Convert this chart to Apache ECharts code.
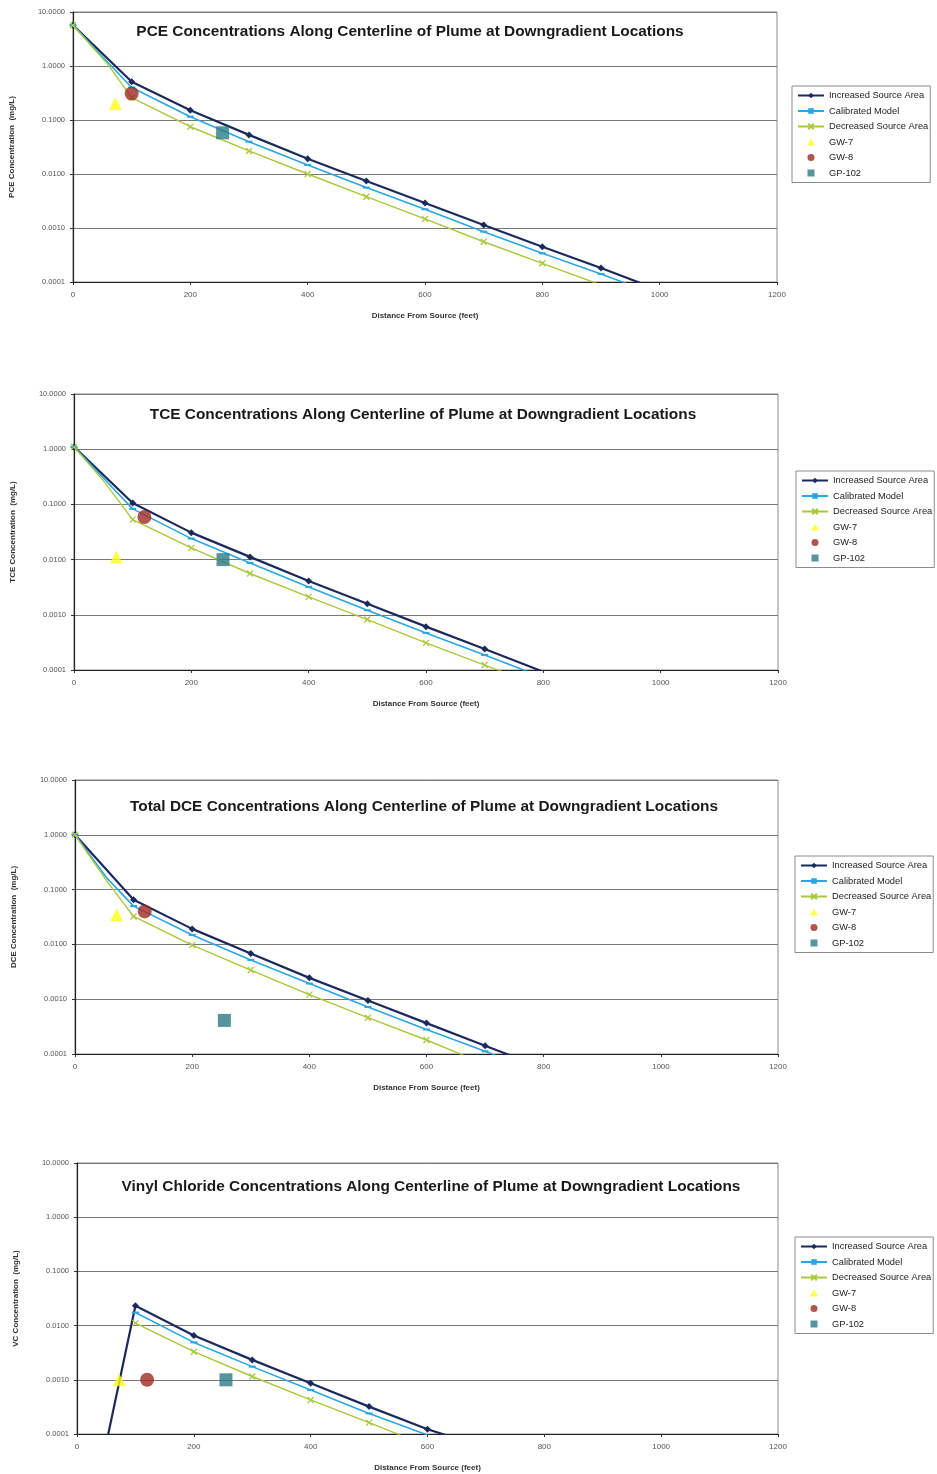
<!DOCTYPE html>
<html>
<head>
<meta charset="utf-8">
<script src="https://cdn.jsdelivr.net/npm/echarts@6/dist/echarts.min.js"></script>
<style>
html,body{margin:0;padding:0;background:#fff;}
#chart{width:937px;height:1474px;}
</style>
</head>
<body>
<div id="chart"></div>
<script>
// ---------- Data (distance ft, concentration mg/L) ----------
const seriesNames = ['Increased Source Area','Calibrated Model','Decreased Source Area','GW-7','GW-8','GP-102'];
const chartTitles = [
  'PCE Concentrations Along Centerline of Plume at Downgradient Locations',
  'TCE Concentrations Along Centerline of Plume at Downgradient Locations',
  'Total DCE Concentrations Along Centerline of Plume at Downgradient Locations',
  'Vinyl Chloride Concentrations Along Centerline of Plume at Downgradient Locations'
];
const yAxisNames = ['PCE Concentration  (mg/L)','TCE Concentration  (mg/L)','DCE Concentration  (mg/L)','VC Concentration  (mg/L)'];
const xAxisName = 'Distance From Source (feet)';
const yTicks = [0.0001, 0.001, 0.01, 0.1, 1, 10];
const xTicks = [0, 200, 400, 600, 800, 1000, 1200];

// PCE
const pceIncreased  = [[0,5.7],[100,0.51],[200,0.151],[300,0.053],[400,0.0192],[500,0.0074],[600,0.0029],[700,0.00114],[800,0.00045],[900,0.000182],[1000,0.00007]];
const pceCalibrated = [[0,5.7],[60,1.15],[100,0.40],[200,0.115],[300,0.0396],[400,0.0147],[500,0.0056],[600,0.00222],[700,0.000855],[800,0.00034],[900,0.000141],[1000,0.000055]];
const pceDecreased  = [[0,5.7],[60,1.05],[100,0.26],[200,0.075],[300,0.0267],[400,0.0100],[500,0.0038],[600,0.00147],[700,0.000557],[800,0.000222],[900,0.000088]];
const pceGW7   = [[72,0.20]];
const pceGW8   = [[100,0.31]];
const pceGP102 = [[255,0.058]];

// TCE
const tceIncreased  = [[0,1.1],[100,0.106],[200,0.0308],[300,0.0112],[400,0.00411],[500,0.00158],[600,0.00061],[700,0.00024],[800,0.000093]];
const tceCalibrated = [[0,1.1],[50,0.30],[100,0.083],[200,0.024],[300,0.0087],[400,0.0032],[500,0.00121],[600,0.00047],[700,0.000187],[800,0.000073]];
const tceDecreased  = [[0,1.1],[50,0.27],[100,0.053],[200,0.0163],[300,0.0056],[400,0.00211],[500,0.00082],[600,0.00031],[700,0.000123],[800,0.000049]];
const tceGW7   = [[72,0.0112]];
const tceGW8   = [[120,0.059]];
const tceGP102 = [[254,0.0100]];

// DCE
const dceIncreased  = [[0,1.0],[100,0.065],[200,0.0192],[300,0.0068],[400,0.00245],[500,0.00095],[600,0.000366],[700,0.000142],[800,0.000055]];
const dceCalibrated = [[0,1.0],[55,0.16],[100,0.050],[200,0.0149],[300,0.0052],[400,0.00193],[500,0.00072],[600,0.00028],[700,0.000112],[800,0.000043]];
const dceDecreased  = [[0,1.0],[55,0.14],[100,0.0323],[200,0.0097],[300,0.0034],[400,0.00121],[500,0.00046],[600,0.00018],[700,0.000065]];
const dceGW7   = [[71,0.0347]];
const dceGW8   = [[119,0.040]];
const dceGP102 = [[255,0.00041]];

// Vinyl chloride
const vcIncreased  = [[0,0.00000019],[100,0.0232],[200,0.00656],[300,0.00233],[400,0.00086],[500,0.00032],[600,0.000122],[700,0.000056]];
const vcCalibrated = [[100,0.0174],[200,0.0049],[300,0.00175],[400,0.00065],[500,0.00024],[600,0.000096],[700,0.00004]];
const vcDecreased  = [[100,0.0111],[200,0.0033],[300,0.00115],[400,0.000425],[500,0.000162],[600,0.00006]];
const vcGW7   = [[72,0.0010]];
const vcGW8   = [[120,0.0010]];
const vcGP102 = [[255,0.0010]];

const chartData = [
  [pceIncreased, pceCalibrated, pceDecreased, pceGW7, pceGW8, pceGP102],
  [tceIncreased, tceCalibrated, tceDecreased, tceGW7, tceGW8, tceGP102],
  [dceIncreased, dceCalibrated, dceDecreased, dceGW7, dceGW8, dceGP102],
  [vcIncreased, vcCalibrated, vcDecreased, vcGW7, vcGW8, vcGP102]
];

// ---------- Layout / style ----------
const FONT = '"Liberation Sans", Arial, sans-serif';
const grids = [
  {left:71, top:12,   width:706, height:270},
  {left:74, top:394,  width:704, height:276},
  {left:75, top:780,  width:703, height:274},
  {left:77, top:1163, width:701, height:271}
];
const titlePos  = [{x:405,y:27},{x:418,y:410},{x:419,y:802},{x:426,y:1182}];
const legendPos = [{x:792,y:86},{x:796,y:471},{x:795,y:856},{x:795,y:1237}];
const C_INC = '#1b2a5c', C_CAL = '#2aa7e1', C_DEC = '#a9c83c', C_GW7 = '#ffff1a', C_GW8 = '#9e2a22', C_GP = '#2c7a84';
const xPath = 'path://M0,0L10,10M10,0L0,10';
const triPath = 'path://M5,0L10,9L0,9Z';
const circPath = 'path://M5,0A5,5,0,1,1,4.99,0Z';
const sqPath = 'path://M0,0H10V10H0Z';

// marker only on the regular 100-ft model nodes
const nodes = arr => arr.map(d => (d[0] % 100 === 0) ? d : {value:d, symbol:'none'});

const option = {
  animation:false,
  backgroundColor:'#fff',
  title: chartTitles.map((t,i)=>({
    text:t, left:titlePos[i].x, top:titlePos[i].y, textAlign:'center', textVerticalAlign:'middle',
    textStyle:{fontFamily:FONT, fontSize:15.4, fontWeight:'bold', color:'#1a1a1a'}
  })),
  legend: legendPos.map(p=>({
    data:[
      {name:seriesNames[0]},
      {name:seriesNames[1]},
      {name:seriesNames[2]},
      {name:seriesNames[3], icon:triPath},
      {name:seriesNames[4], icon:circPath},
      {name:seriesNames[5], icon:sqPath}
    ],
    orient:'vertical', left:p.x, top:p.y, symbolKeepAspect:true,
    backgroundColor:'#fff', borderColor:'#8c8c8c', borderWidth:1, borderRadius:0,
    padding:[4,2,4,5], itemGap:4.5, itemWidth:26, itemHeight:7,
    textStyle:{fontFamily:FONT, fontSize:9.3, color:'#222', lineHeight:11},
    selectedMode:false
  })),
  grid: grids.map(g=>Object.assign({show:true, borderColor:'#8a8a8a', borderWidth:1, backgroundColor:'#fff'}, g)),
  xAxis: grids.map((g,i)=>({
    type:'value', gridIndex:i, min:xTicks[0], max:xTicks[xTicks.length-1], interval:200,
    name:xAxisName, nameLocation:'middle', nameGap:30,
    nameTextStyle:{fontFamily:FONT, fontSize:8, fontWeight:'bold', color:'#333'},
    axisLine:{show:true, onZero:false, lineStyle:{color:'#222', width:1.2}},
    axisTick:{show:true, length:3, lineStyle:{color:'#333'}},
    axisLabel:{fontFamily:FONT, fontSize:8, color:'#555', margin:9, formatter:v=>String(v)},
    splitLine:{show:false}
  })),
  yAxis: grids.map((g,i)=>({
    type:'log', logBase:10, gridIndex:i, min:yTicks[0], max:yTicks[yTicks.length-1],
    name:yAxisNames[i], nameLocation:'middle', nameRotate:90, nameGap:57,
    nameTextStyle:{fontFamily:FONT, fontSize:8, fontWeight:'bold', color:'#333'},
    axisLine:{show:true, lineStyle:{color:'#222', width:1.2}},
    axisTick:{show:true, length:3, lineStyle:{color:'#333'}},
    axisLabel:{fontFamily:FONT, fontSize:7.5, color:'#555', margin:8, formatter:v=>Number(v).toFixed(4)},
    splitLine:{show:true, lineStyle:{color:'#777', width:1.2}},
    minorTick:{show:false}
  })),
  series: []
};

chartData.forEach((sets,i)=>{
  option.series.push(
    {name:seriesNames[0], type:'line', xAxisIndex:i, yAxisIndex:i, data:nodes(sets[0]), clip:true, z:3,
     symbol:'diamond', symbolSize:7, lineStyle:{color:C_INC, width:2.2}, itemStyle:{color:C_INC}},
    {name:seriesNames[1], type:'line', xAxisIndex:i, yAxisIndex:i, data:nodes(sets[1]), clip:true, z:4,
     symbol:'rect', symbolSize:[7,2], lineStyle:{color:C_CAL, width:1.6}, itemStyle:{color:C_CAL}},
    {name:seriesNames[2], type:'line', xAxisIndex:i, yAxisIndex:i, data:nodes(sets[2]), clip:true, z:5,
     symbol:xPath, symbolSize:6, lineStyle:{color:C_DEC, width:1.4}, itemStyle:{color:C_DEC, borderColor:C_DEC, borderWidth:1.3}},
    {name:seriesNames[3], type:'scatter', xAxisIndex:i, yAxisIndex:i, data:sets[3], z:6,
     symbol:'triangle', symbolSize:13, itemStyle:{color:C_GW7}},
    {name:seriesNames[4], type:'scatter', xAxisIndex:i, yAxisIndex:i, data:sets[4], z:6,
     symbol:'circle', symbolSize:14, itemStyle:{color:C_GW8}},
    {name:seriesNames[5], type:'scatter', xAxisIndex:i, yAxisIndex:i, data:sets[5], z:6,
     symbol:'rect', symbolSize:13, itemStyle:{color:C_GP}}
  );
});

const chart = echarts.init(document.getElementById('chart'), null, {renderer:'canvas'});
chart.setOption(option);
</script>
</body>
</html>
